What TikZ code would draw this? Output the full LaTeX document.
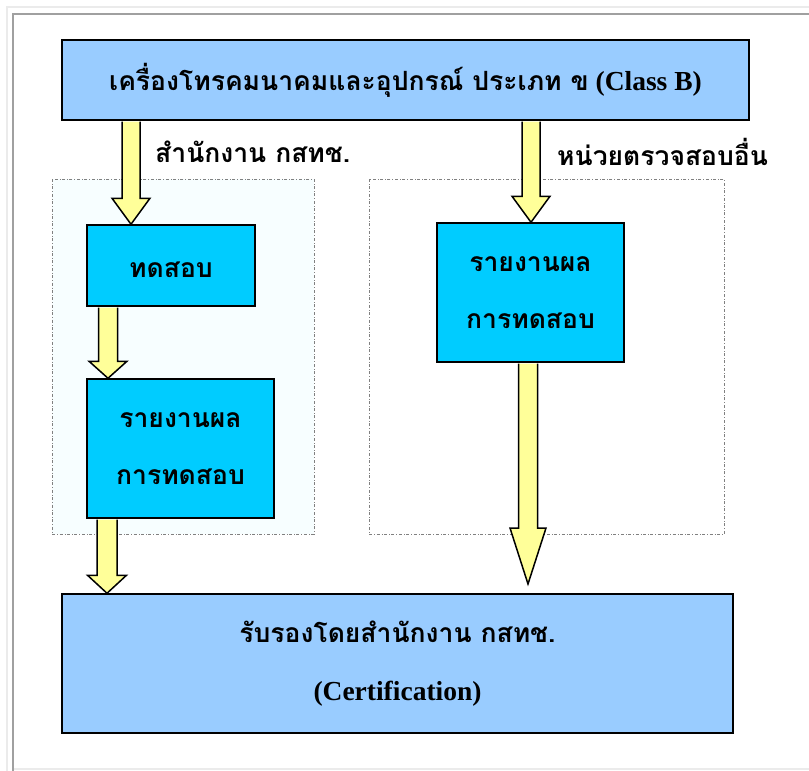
\documentclass[tikz,border=0pt]{standalone}
\usepackage{fontspec}
\setmainfont{Liberation Serif}
\newfontfamily\thaifont[Script=Thai]{Loma}
\usetikzlibrary{calc}
\definecolor{boxblue}{HTML}{99CCFF}
\definecolor{boxcyan}{HTML}{00CCFF}
\definecolor{arrowyellow}{HTML}{FFFF99}
\definecolor{groupfill}{HTML}{F7FEFF}
\definecolor{framedark}{HTML}{A0A0A0}
\definecolor{framelight}{HTML}{EBEBEB}
\newcommand\thai[1]{{\thaifont\fontsize{26.5}{33}\selectfont #1}}
\newcommand\fatarrow[5]{%
  \draw[fat] let \p1 = #1, \p2 = #2 in
    ({\x1-#3},{\y1-0.75}) -- ({\x1-#3},{\y2+#5}) -- ({\x1-#4},{\y2+#5}) --
    (\x1,\y2) -- ({\x1+#4},{\y2+#5}) -- ({\x1+#3},{\y2+#5}) -- ({\x1+#3},{\y1-0.75});}
\begin{document}
\begin{tikzpicture}
  [
    x=1pt, y=-1pt,
    title/.style =
      {draw, line width=1.5pt, fill=boxblue, minimum width=687pt, minimum height=80pt,
       font=\bfseries\fontsize{27.5}{33}\selectfont},
    step1/.style =
      {draw, line width=1.5pt, fill=boxcyan, align=center, inner sep=0pt,
       font=\thaifont\bfseries\fontsize{26.5}{57}\selectfont,
       execute at begin node=\rule{0pt}{25pt}},
    cert/.style =
      {draw, line width=1.5pt, fill=boxblue, align=center, minimum width=671pt,
       minimum height=139pt, font=\bfseries\fontsize{27.5}{58}\selectfont},
    group/.style = {draw=gray, dash dot, line width=0.6pt},
    lab/.style = {anchor=west, inner sep=0pt, font=\thaifont\bfseries\fontsize{26.5}{30}\selectfont},
    fat/.style = {draw, fill=arrowyellow, line width=1.5pt, line join=miter}
  ]
  \useasboundingbox (0,0) rectangle (809,771);
  \draw[framelight, line width=2pt] (7,771) -- (7,7) -- (809,7);
  \draw[framelight, line width=2pt] (13,769) -- (809,769);
  \draw[framedark,  line width=2pt] (13,771) -- (13,14) -- (809,14);

  \draw[group, fill=groupfill] ( 52,179) rectangle (314,534);
  \draw[group, fill=white]     (369,179) rectangle (724,534);

  \node [title] at (405.5,80) (cls) {\thai{เครื่องโทรคมนาคมและอุปกรณ์ ประเภท ข} (Class B)};
  \node [step1, minimum width=168pt, minimum height=81pt]  at (171,265.5) (tst) {ทดสอบ};
  \node [step1, minimum width=187pt, minimum height=139pt] at (180.5,448.5) (rpl) {รายงานผล\\การทดสอบ};
  \node [step1, minimum width=187pt, minimum height=139pt] at (530.5,292.5) (rpr) {รายงานผล\\การทดสอบ};
  \node [cert] at (397.5,663.5) (crt) {\thai{รับรองโดยสำนักงาน กสทช.}\\(Certification)};

  \node [lab] at (155,152) (lbl) {สำนักงาน กสทช.};
  \node [lab] at (557,152) (lbr) {หน่วยตรวจสอบอื่น};

  \coordinate (ca) at (131,0);
  \coordinate (cb) at (108,0);
  \coordinate (cc) at (107,0);
  \coordinate (cd) at (531,0);
  \coordinate (ce) at (528,0);
  \coordinate (tip) at (528,584);

  \fatarrow{(cls.south-|ca)}{(tst.north-|ca)}{9}{19}{26}
  \fatarrow{(tst.south-|cb)}{(rpl.north-|cb)}{9.5}{19}{17}
  \fatarrow{(rpl.south-|cc)}{(crt.north-|cc)}{10}{19.5}{18}
  \fatarrow{(cls.south-|cd)}{(rpr.north-|cd)}{9}{19}{26}
  \fatarrow{(rpr.south-|ce)}{(tip)}{9.5}{18}{56}
\end{tikzpicture}
\end{document}
